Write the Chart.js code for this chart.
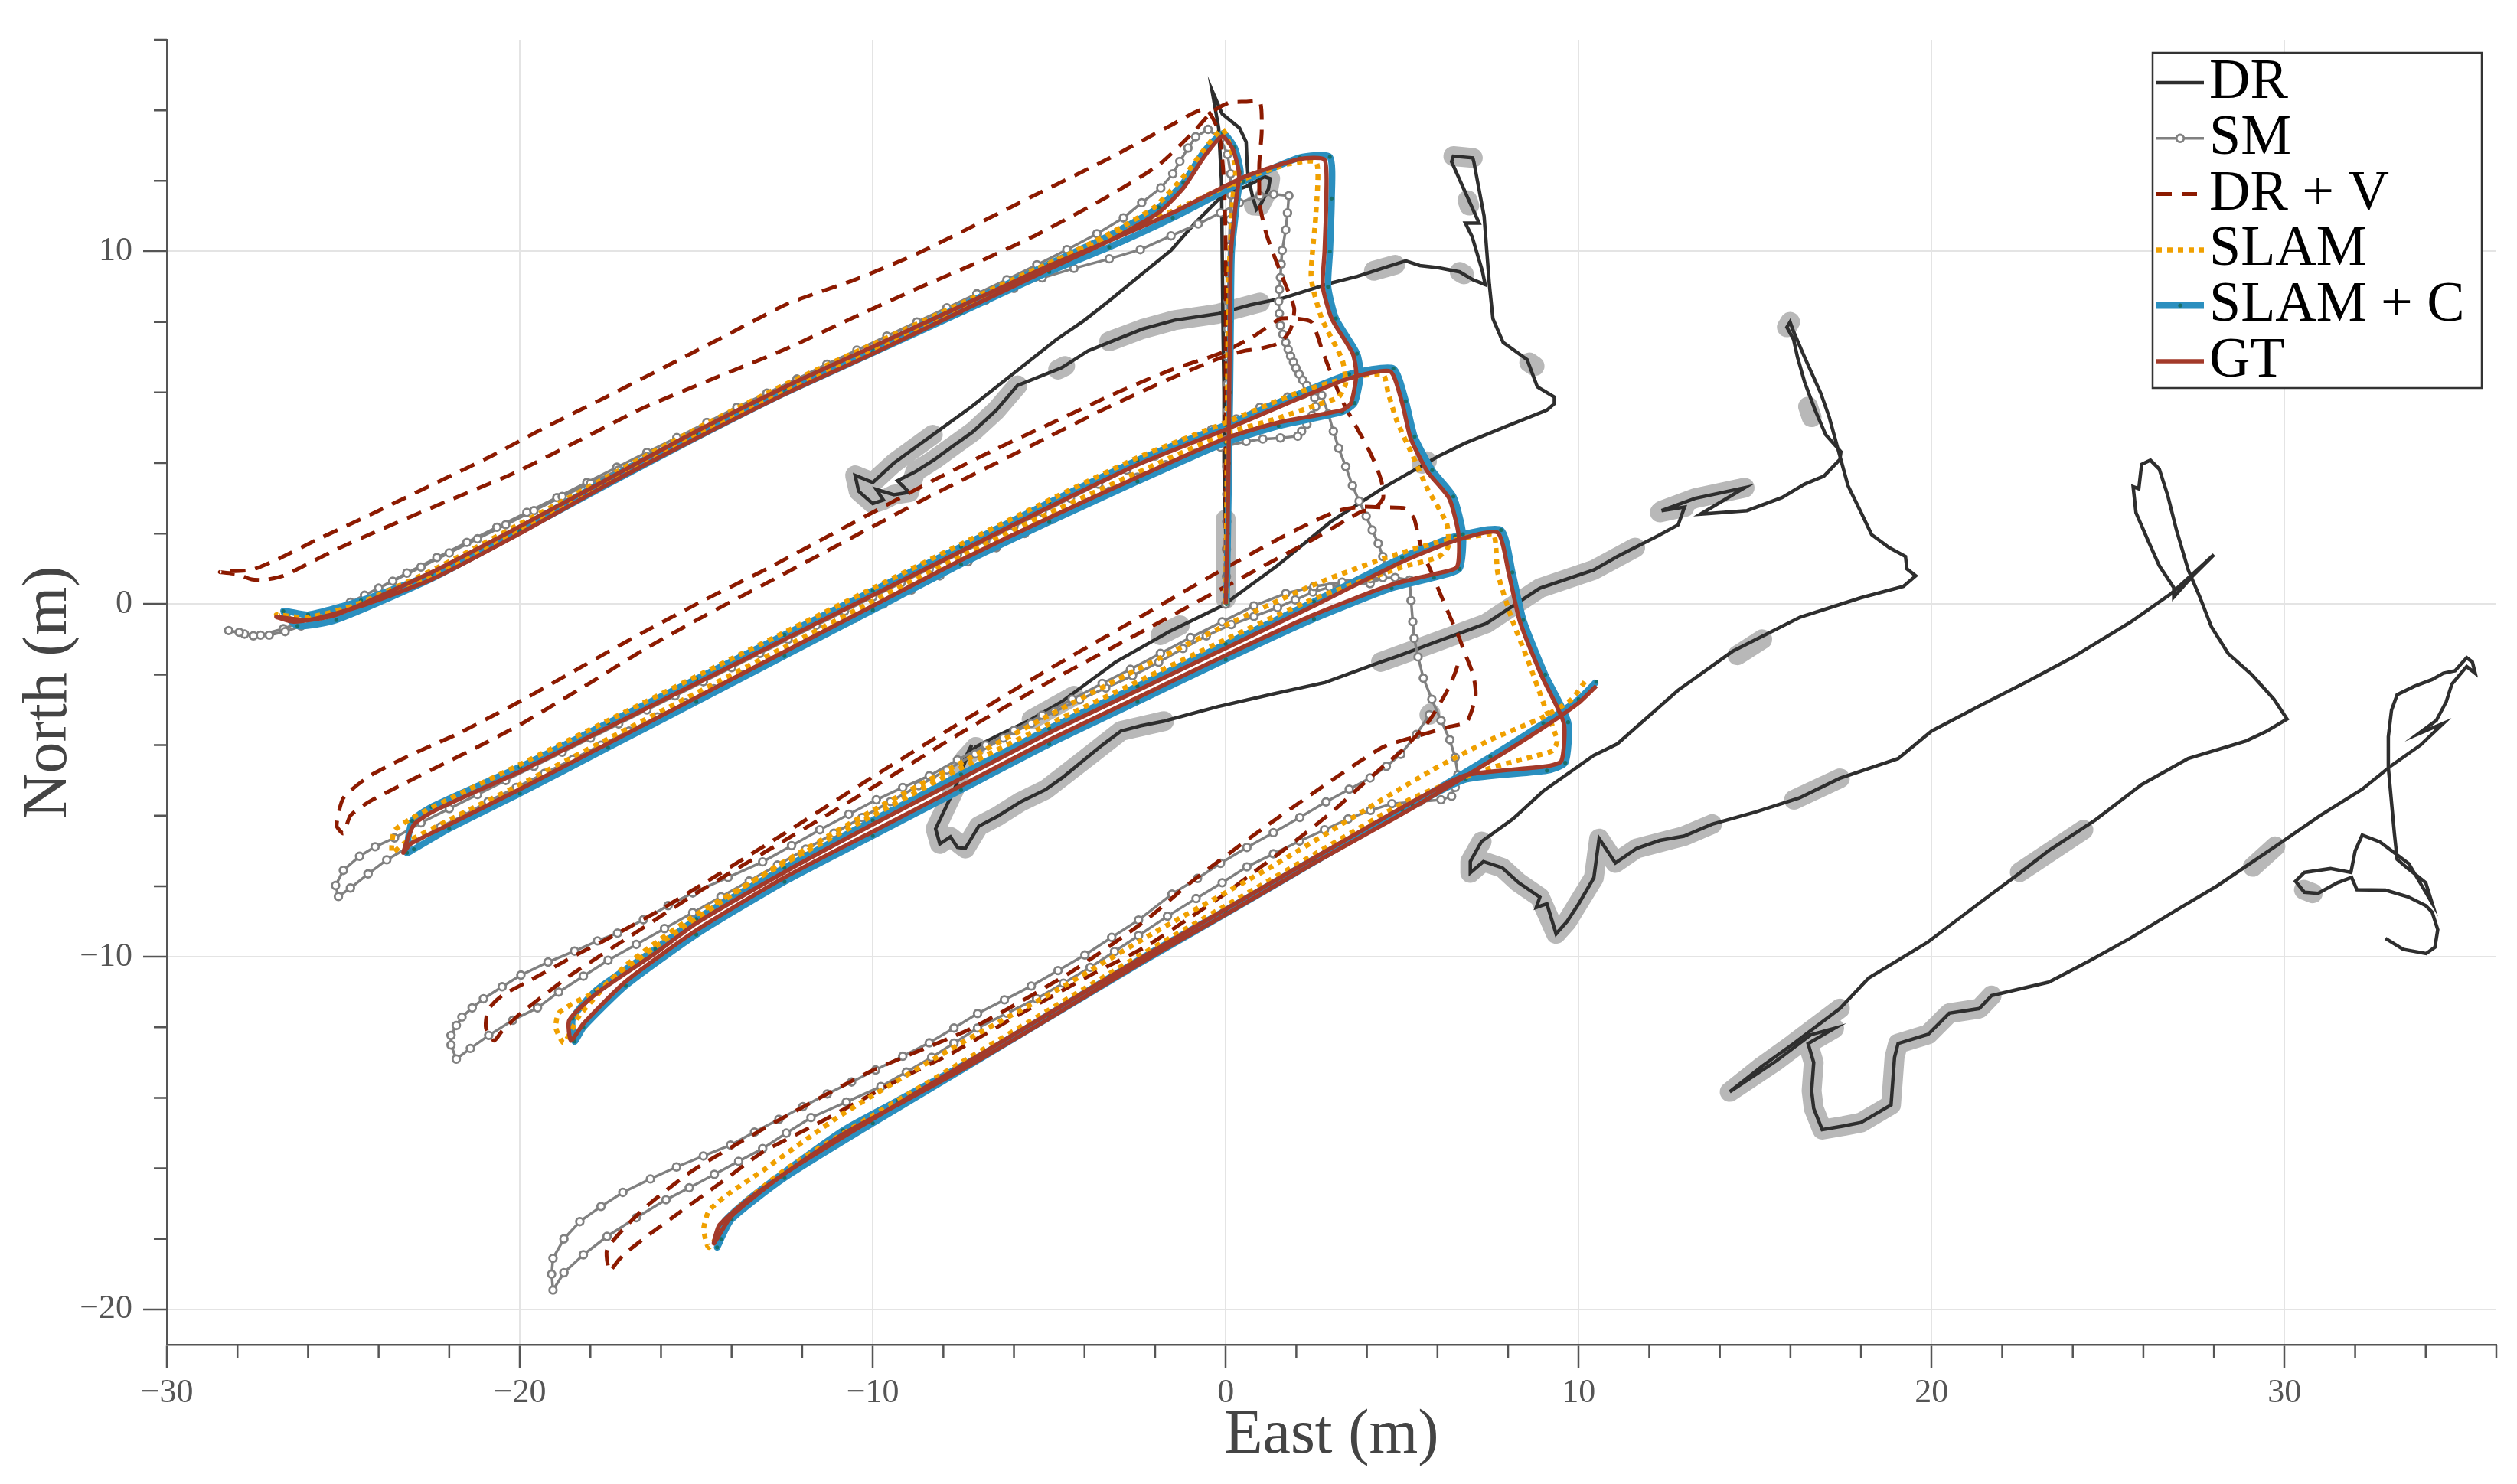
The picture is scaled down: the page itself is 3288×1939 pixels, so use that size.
<!DOCTYPE html>
<html>
<head>
<meta charset="utf-8">
<script src="https://cdn.jsdelivr.net/npm/chart.js@4.4.1/dist/chart.umd.min.js"></script>
<style>
html, body { margin: 0; padding: 0; background: #fff; }
</style>
</head>
<body>
<canvas id="myChart" width="3288" height="1939"></canvas>
<script>
// tick labels
const xTicks = [-30, -20, -10, 0, 10, 20, 30];
const yTicks = [-20, -10, 0, 10];
const legendOrder = ['DR', 'SM', 'DR + V', 'SLAM', 'SLAM + C', 'GT'];

// trajectories, [east, north] in metres
const drPath = [
 [0,0],[0.0,2],[-0.05,4],[-0.05,6],[-0.08,8],[-0.1,10],[-0.12,12],[-0.2,13.5],[-0.39,14.57],
 [-0.1,13.9],[0.39,13.5],[0.58,13.1],[0.6,12.6],[0.63,12.16],[0.75,11.6],[0.87,11.19],[0.97,11.29],[1.21,11.77],[1.26,12.06],[1.1,12.12],[0.6,11.85],[-0.1,11.58],
 [-0.87,10.8],[-1.55,10.03],[-2.33,9.4],[-3.3,8.6],[-4.0,8.05],[-4.8,7.5],[-6.0,6.55],[-7.2,5.6],[-8.3,4.8],[-9.4,4.0],[-10.0,3.45],
 [-10.5,3.65],[-10.4,3.2],[-10.0,2.85],[-9.7,2.95],[-9.9,3.25],[-9.4,3.1],[-8.97,3.17],[-9.3,3.5],[-8.8,3.75],[-8.25,4.1],[-7.7,4.5],[-7.17,4.88],[-6.5,5.5],[-5.9,6.2],
 [-4.65,6.7],[-3.9,7.18],[-3.13,7.49],[-2.36,7.8],[-1.45,8.05],[-0.23,8.23],[0.69,8.48],[1.6,8.67],[2.97,9.1],[3.73,9.29],[4.5,9.54],[5.1,9.73],[5.5,9.6],[6.02,9.54],[6.63,9.42],[7.0,9.2],[7.35,9.06],
 [7.27,9.45],[6.98,10.42],[6.79,10.8],[7.18,10.8],[6.79,11.67],[6.4,12.54],[6.45,12.7],[7.0,12.65],[7.03,12.54],[7.32,11.0],[7.47,9.06],[7.57,8.09],[7.86,7.42],[8.54,6.93],[8.83,6.16],[9.31,5.87],[9.31,5.68],[9.1,5.5],
 [8.0,5.06],[6.78,4.56],[6.02,4.19],[4.5,3.32],[2.97,2.33],[1.45,1.08],[-0.08,-0.04],[-1.6,-0.78],[-3.13,-1.65],[-4.65,-2.77],[-5.55,-3.29],[-6.5,-3.75],[-7.08,-4.05],
 [-7.4,-4.4],[-7.2,-4.0],[-7.69,-5.26],[-7.9,-5.7],[-8.22,-6.37],[-8.1,-6.8],[-7.8,-6.6],[-7.6,-6.9],[-7.38,-6.93],[-7.0,-6.3],[-6.47,-6.02],[-5.8,-5.6],[-5.1,-5.26],[-4.6,-4.9],[-4.03,-4.43],[-3.5,-4.0],[-2.97,-3.6],[-2.4,-3.45],[-1.75,-3.32],
 [-0.23,-2.91],[1.29,-2.56],[2.82,-2.22],[4.34,-1.66],[4.95,-1.45],[5.86,-1.11],[7.38,-0.55],[8.9,0.45],[10.43,0.97],[11.1,1.35],[12.25,1.94],[12.82,2.25],
 [13.0,2.75],[12.35,2.65],[13.3,3.0],[14.7,3.3],[13.45,2.55],[14.77,2.65],[15.76,3.02],[16.4,3.4],[16.95,3.63],[17.4,4.1],[17.43,4.32],[17.0,4.8],[16.7,5.5],[16.4,6.3],[16.2,7.0],[16.09,7.5],[15.9,7.85],[15.99,8.0],[16.1,7.7],[16.4,7.0],[16.86,5.98],[17.1,5.3],[17.63,3.36],[18.0,2.6],[18.3,1.97],[18.8,1.6],[19.26,1.35],[19.3,1.0],[19.55,0.8],[19.2,0.5],
 [18.0,0.18],[16.28,-0.37],[14.36,-1.34],[12.82,-2.44],[11.1,-3.96],[10.43,-4.29],[9.0,-5.3],[8.14,-6.09],[7.25,-6.73],[6.93,-7.3],
 [6.93,-7.62],[7.3,-7.3],[7.84,-7.48],[8.3,-7.9],[8.9,-8.31],[8.8,-8.6],[9.1,-8.5],[9.36,-9.35],[9.67,-9.0],[10.0,-8.5],[10.43,-7.76],[10.58,-6.65],[11.04,-7.34],[11.64,-6.93],[12.3,-6.7],[12.98,-6.58],
 [13.78,-6.24],[15.0,-5.9],[16.25,-5.5],[17.4,-4.94],[19.05,-4.38],[20.0,-3.6],[21.35,-2.89],[22.7,-2.2],[23.98,-1.52],[25.62,-0.52],[26.78,0.29],[27.93,1.34],[28.0,1.4],[27.4,0.8],[26.86,0.2],
 [26.86,0.47],[26.45,1.09],[26.12,1.83],[25.79,2.59],[25.71,3.33],[25.87,3.27],[25.95,3.96],[26.2,4.08],[26.45,3.83],[26.69,3.08],[26.94,2.09],[27.27,0.97],[27.6,0.2],[27.93,-0.65],[28.4,-1.4],[29.08,-2.01],[29.7,-2.7],[30.07,-3.26],[29.5,-3.6],[28.91,-3.88],[27.27,-4.38],[25.95,-5.12],[24.64,-6.12],[23.32,-6.99],[22.4,-7.7],[21.51,-8.36],[19.87,-9.6],[18.22,-10.6],[17.4,-11.47],[16.09,-12.46],[15.2,-13.1],[14.28,-13.83],
 [15.59,-12.96],[16.58,-12.21],[17.24,-12.03],[16.5,-12.46],[16.66,-13.0],[16.6,-13.8],[16.66,-14.3],[16.9,-14.9],[17.5,-14.8],[18.0,-14.7],[18.85,-14.2],[18.95,-12.85],[19.05,-12.46],[19.9,-12.2],[20.5,-11.6],[21.35,-11.47],[21.7,-11.1],
 [23.32,-10.72],[24.5,-10.1],[25.62,-9.48],[26.9,-8.7],[28.09,-7.99],[29.74,-6.87],[31.0,-6.0],[32.2,-5.25],[33.0,-4.6],[33.85,-4.0],[34.5,-3.38],[33.77,-3.69],
 [34.3,-3.3],[34.58,-2.77],[34.74,-2.27],[35.16,-1.77],[35.4,-1.96],[35.32,-1.64],[35.16,-1.52],[34.83,-1.89],[34.5,-1.96],[34.18,-2.14],[33.68,-2.33],[33.19,-2.57],[33.03,-3.01],[32.94,-3.76],[32.94,-4.63],[33.03,-5.62],[33.11,-6.49],[33.19,-7.24],[33.5,-7.5],[34.0,-7.9],[34.18,-8.48],
 [33.52,-7.36],[32.7,-6.74],[32.2,-6.55],[32.0,-7.0],[31.88,-7.61],[31.3,-7.5],[30.56,-7.61],[30.31,-7.86],[30.56,-8.17],[30.95,-8.2],[31.5,-7.9],[31.9,-7.75],[32.05,-8.1],[32.86,-8.11],[33.5,-8.3],[34.0,-8.55],[34.18,-8.73],[34.34,-9.23],[34.26,-9.73],[34.01,-9.91],[33.36,-9.79],[32.86,-9.48]
];

// grey bands drawn under parts of DR (null = gap)
const drGlow = [
 [0,0.15],[0,2.4], null,
 [0.8,11.3],[0.97,11.29],[1.21,11.77],[1.26,12.06], null,
 [-8.3,4.8],[-9.4,4.0],[-10.0,3.45],[-10.5,3.65],[-10.4,3.2],[-10.0,2.85],[-9.7,2.95],[-9.4,3.1],[-8.97,3.17],[-8.8,3.75],[-8.25,4.1],[-7.7,4.5],[-7.17,4.88],[-6.5,5.5],[-5.9,6.2], null,
 [-4.75,6.65],[-4.55,6.75], null,
 [-3.3,7.45],[-2.36,7.8],[-1.45,8.05],[-0.23,8.23],[0.97,8.55], null,
 [4.2,9.45],[4.8,9.62], null,
 [6.63,9.42],[6.75,9.35], null,
 [6.45,12.7],[7.0,12.65], null,
 [6.85,11.45],[6.9,11.3], null,
 [8.6,6.85],[8.75,6.75], null,
 [5.55,3.98],[5.7,4.05], null,
 [-1.85,-0.88],[-1.3,-0.6], null,
 [-5.5,-3.27],[-4.3,-2.6], null,
 [-7.08,-4.05],[-7.4,-4.4],[-7.69,-5.26],[-7.9,-5.7],[-8.22,-6.37],[-8.1,-6.8],[-7.8,-6.6],[-7.38,-6.93],[-7.0,-6.3],[-6.47,-6.02],[-5.8,-5.6],[-5.1,-5.26],[-4.03,-4.43],[-2.97,-3.6],[-1.75,-3.32], null,
 [4.4,-1.64],[5.86,-1.11],[7.38,-0.55],[8.9,0.45],[10.43,0.97],[11.6,1.6], null,
 [12.3,2.6],[13.0,2.75],[12.35,2.65],[13.3,3.0],[14.7,3.3], null,
 [15.9,7.85],[15.99,8.0], null,
 [16.5,5.6],[16.6,5.3], null,
 [14.5,-1.45],[15.2,-1.0], null,
 [7.25,-6.73],[6.93,-7.3],[6.93,-7.62],[7.3,-7.3],[7.84,-7.48],[8.3,-7.9],[8.9,-8.31],[9.36,-9.35],[9.67,-9.0],[10.43,-7.76],[10.58,-6.65],[11.04,-7.34],[11.64,-6.93],[12.98,-6.58],[13.78,-6.24], null,
 [16.1,-5.55],[17.4,-4.94], null,
 [22.5,-7.6],[24.3,-6.4], null,
 [17.4,-11.47],[16.09,-12.46],[15.2,-13.1],[14.28,-13.83],[15.59,-12.96],[16.58,-12.21],[17.24,-12.03],[16.5,-12.46],[16.66,-13.0],[16.6,-13.8],[16.66,-14.3],[16.9,-14.9],[17.5,-14.8],[18.0,-14.7],[18.85,-14.2],[18.95,-12.85],[19.05,-12.46],[19.9,-12.2],[20.5,-11.6],[21.35,-11.47],[21.7,-11.1], null,
 [29.1,-7.45],[29.74,-6.87], null,
 [30.55,-8.1],[30.8,-8.2], null,
 [5.77,-3.14],[5.8,-3.1]
];

const smPath = [
 [0,0],[0.02,0.78],[0.02,1.56],[0.03,2.34],[0.03,3.12],[0.03,3.9],[0.04,4.68],[0.04,5.46],[0.05,6.24],[0.05,7.02],[0.06,7.8],[0.07,8.58],[0.08,9.36],[0.1,10.14],[0.12,10.9],[0.15,11.6],[0.14,12.2],[0.05,12.75],[-0.15,13.2],[-0.5,13.46],
 [-0.85,13.25],[-1.07,12.93],[-1.3,12.55],[-1.5,12.2],[-1.84,11.8],[-2.38,11.38],[-2.9,10.95],[-3.65,10.5],[-4.5,10.05],[-5.35,9.62],[-6.2,9.2],[-7.05,8.8],[-7.9,8.4],[-8.75,8.0],[-9.6,7.6],[-10.45,7.2],[-11.3,6.8],[-12.15,6.38],[-13.0,5.98],[-13.85,5.58],[-14.7,5.15],[-15.55,4.72],[-16.4,4.3],[-17.25,3.88],[-18.1,3.45],[-18.95,3.02],[-19.8,2.6],[-20.65,2.18],[-21.5,1.75],[-22.35,1.32],[-23.2,0.88],[-24.0,0.45],[-24.8,0.05],[-25.5,-0.25],[-26.1,-0.47],[-26.7,-0.7],[-27.35,-0.88],[-27.8,-0.85],[-28.25,-0.75],
 [-27.95,-0.8],[-27.55,-0.9],[-27.1,-0.88],[-26.65,-0.78],[-26.2,-0.62],[-25.7,-0.4],[-25.1,-0.12],[-24.4,0.25],[-23.6,0.65],[-22.8,1.05],[-22.0,1.45],[-21.2,1.85],[-20.4,2.25],[-19.6,2.65],[-18.8,3.05],[-18.0,3.42],[-17.2,3.8],[-16.4,4.18],[-15.6,4.56],[-14.8,4.95],[-14.0,5.32],[-13.2,5.7],[-12.4,6.08],[-11.6,6.45],[-10.8,6.82],[-10.0,7.2],[-9.2,7.55],[-8.4,7.92],[-7.6,8.28],[-6.8,8.62],[-6.0,8.95],[-5.2,9.25],[-4.3,9.52],[-3.3,9.79],[-2.42,10.05],[-1.55,10.44],[-0.78,10.78],[-0.15,11.09],[0.39,11.38],[0.97,11.58],[1.36,11.62],[1.79,11.58],
 [1.75,11.09],[1.7,10.61],[1.6,10.03],[1.57,9.64],[1.55,9.26],[1.52,8.92],[1.5,8.58],[1.52,8.24],[1.55,7.9],[1.62,7.65],[1.7,7.42],[1.77,7.22],[1.84,7.03],[1.92,6.86],[1.99,6.69],[2.08,6.52],[2.18,6.35],[2.3,6.2],[2.42,6.06],[2.52,5.85],[2.55,5.6],[2.45,5.35],[2.3,5.1],[2.15,4.9],[2.04,4.76],
 [1.55,4.71],[1.05,4.68],[0.58,4.61],[-0.15,4.45],[-0.87,4.27],[-1.7,3.95],[-2.5,3.6],[-3.3,3.2],[-4.1,2.8],[-4.9,2.4],[-5.7,2.0],[-6.5,1.6],[-7.3,1.2],[-8.1,0.8],[-8.9,0.4],[-9.7,0.0],[-10.5,-0.4],[-11.3,-0.8],[-12.1,-1.2],[-12.9,-1.6],[-13.7,-2.0],[-14.5,-2.4],[-15.3,-2.8],[-16.1,-3.2],[-16.9,-3.6],[-17.7,-4.0],[-18.5,-4.4],[-19.3,-4.8],[-20.1,-5.2],[-20.9,-5.6],[-21.6,-6.0],[-22.25,-6.32],[-23.0,-6.8],[-23.77,-7.25],[-24.3,-7.65],[-24.8,-8.05],[-25.14,-8.29],
 [-25.22,-7.98],[-25.0,-7.55],[-24.54,-7.15],[-24.1,-6.88],[-23.55,-6.63],[-22.8,-6.2],[-22.0,-5.8],[-21.2,-5.4],[-20.4,-5.0],[-19.6,-4.6],[-18.8,-4.2],[-18.0,-3.8],[-17.2,-3.4],[-16.4,-3.0],[-15.6,-2.6],[-14.8,-2.2],[-14.0,-1.8],[-13.2,-1.4],[-12.4,-1.0],[-11.6,-0.6],[-10.8,-0.2],[-10.0,0.2],[-9.2,0.6],[-8.4,1.0],[-7.6,1.4],[-6.8,1.8],[-6.0,2.2],[-5.2,2.6],[-4.4,3.0],[-3.6,3.4],[-2.8,3.8],[-2.0,4.2],[-1.2,4.6],[-0.4,4.95],[0.3,5.25],[0.97,5.58],[1.75,5.87],[2.2,5.95],[2.72,5.92],
 [2.91,5.39],[3.05,4.9],[3.2,4.42],[3.4,3.9],[3.59,3.36],[3.78,2.92],[3.98,2.49],[4.15,2.1],[4.32,1.72],[4.45,1.35],[4.53,1.06],[4.45,0.75],[4.09,0.58],
 [3.47,0.58],[2.95,0.48],[2.47,0.34],[1.97,0.12],[1.47,-0.1],[0.8,-0.35],[0.16,-0.58],[-0.55,-0.9],[-1.21,-1.26],[-1.9,-1.65],[-2.64,-2.03],[-3.4,-2.38],[-4.14,-2.71],[-4.85,-3.05],[-5.51,-3.38],[-6.3,-3.8],[-7.1,-4.25],[-7.9,-4.7],[-8.7,-5.15],[-9.5,-5.6],[-10.3,-6.05],[-11.1,-6.5],[-11.9,-6.95],[-12.7,-7.4],[-13.5,-7.85],[-14.3,-8.3],[-15.1,-8.75],[-15.9,-9.2],[-16.7,-9.65],[-17.5,-10.1],[-18.2,-10.55],[-18.9,-11.0],[-19.5,-11.45],[-20.2,-11.8],[-20.88,-12.23],[-21.4,-12.6],[-21.8,-12.9],
 [-21.95,-12.5],[-21.95,-12.23],[-21.8,-11.95],[-21.64,-11.71],[-21.35,-11.45],[-21.03,-11.19],[-20.5,-10.85],[-19.97,-10.52],[-19.2,-10.15],[-18.45,-9.84],[-17.8,-9.55],[-17.23,-9.33],[-16.5,-8.95],[-15.8,-8.55],[-15.1,-8.19],[-14.1,-7.75],[-13.12,-7.31],[-12.3,-6.85],[-11.5,-6.4],[-10.68,-5.96],[-9.9,-5.55],[-9.15,-5.2],[-8.4,-4.87],[-7.6,-4.42],[-6.8,-4.0],[-6.0,-3.58],[-5.2,-3.15],[-4.35,-2.7],[-3.5,-2.25],[-2.7,-1.85],[-1.85,-1.4],[-1.0,-0.95],[-0.1,-0.5],[0.8,-0.05],[1.7,0.3],[2.5,0.5],[3.3,0.62],[4.1,0.72],[4.8,0.75],[5.21,0.68],
 [5.25,0.1],[5.3,-0.5],[5.34,-0.97],[5.45,-1.5],[5.6,-2.1],[5.84,-2.7],[6.1,-3.3],[6.35,-3.85],[6.5,-4.35],[6.58,-4.84],[6.5,-5.2],[6.4,-5.45],[6.1,-5.55],[5.5,-5.6],[4.71,-5.66],
 [4.1,-5.85],[3.47,-6.09],[2.8,-6.4],[2.09,-6.72],[1.35,-7.08],[0.6,-7.45],[-0.1,-7.9],[-0.84,-8.35],[-1.65,-8.85],[-2.47,-9.4],[-3.15,-9.85],[-3.84,-10.3],[-4.6,-10.75],[-5.36,-11.19],[-6.2,-11.6],[-7.03,-12.02],[-7.7,-12.45],[-8.33,-12.85],[-9.05,-13.27],[-9.77,-13.68],[-10.75,-14.12],[-11.75,-14.56],[-12.45,-15.0],[-13.12,-15.44],[-13.8,-15.8],[-14.49,-16.17],[-15.2,-16.55],[-15.86,-16.89],[-16.7,-17.4],[-17.53,-17.93],[-18.2,-18.45],[-18.75,-18.96],[-19.06,-19.45],
 [-19.1,-19.0],[-19.06,-18.55],[-18.75,-18.0],[-18.3,-17.51],[-17.7,-17.08],[-17.08,-16.68],[-16.3,-16.3],[-15.56,-15.96],[-14.8,-15.65],[-14.03,-15.34],[-13.35,-14.97],[-12.66,-14.61],[-11.98,-14.25],[-11.29,-13.89],[-10.6,-13.55],[-9.92,-13.21],[-9.15,-12.82],[-8.4,-12.44],[-7.7,-12.02],[-7.03,-11.61],[-6.27,-11.22],[-5.51,-10.83],[-4.75,-10.39],[-3.99,-9.95],[-3.23,-9.45],[-2.47,-8.96],[-1.52,-8.22],[-0.8,-7.78],[-0.15,-7.35],[0.6,-6.9],[1.35,-6.48],[2.1,-6.05],[2.84,-5.61],[3.5,-5.25],[4.09,-4.93],[4.55,-4.6],[4.96,-4.26],[5.4,-3.7],[5.77,-3.14]
];

const drvPath = [
 [0,0],[0.0,2.5],[0.0,5],[0.0,7.5],[0.0,10],[-0.05,12],[-0.2,13.4],[-0.58,14.04],
 [-1.6,13.55],[-3.3,12.64],[-5.5,11.55],[-8.67,9.97],[-10.5,9.2],[-12.38,8.53],[-14.0,7.7],[-15.7,6.82],[-17.5,5.9],[-19.3,5.0],[-20.8,4.2],[-22.35,3.45],[-24.1,2.6],[-25.8,1.8],[-26.8,1.3],[-27.6,0.97],[-28.5,0.91],
 [-28.0,0.85],[-27.6,0.7],[-27.2,0.69],[-26.7,0.8],[-26.24,1.02],[-25.2,1.55],[-24.02,2.08],[-22.1,2.9],[-20.13,3.73],[-18.3,4.65],[-16.53,5.55],[-14.5,6.4],[-12.52,7.21],[-10.6,8.1],[-8.67,8.98],[-7.0,9.7],[-5.3,10.5],[-3.3,11.58],[-1.9,12.45],[-0.9,13.4],[-0.4,13.95],[0.1,14.22],[0.55,14.24],[0.97,14.24],
 [1.02,13.41],[0.95,12.45],[0.97,11.3],[1.15,10.5],[1.4,9.8],[1.65,9.16],[1.94,8.38],[1.84,7.8],[1.55,7.42],[1.0,7.25],[0.53,7.18],
 [-0.1,7.0],[-1.55,6.4],[-3.3,5.6],[-5.0,4.75],[-6.5,4.0],[-8.3,3.1],[-10,2.2],[-11.5,1.4],[-13,0.6],[-14.8,-0.35],[-16.5,-1.3],[-18.2,-2.35],[-19.96,-3.4],[-21.0,-3.95],[-22.12,-4.51],[-23.2,-5.05],[-24.28,-5.61],[-24.8,-6.0],[-25.0,-6.5],
 [-25.19,-6.28],[-25.0,-5.5],[-24.3,-4.9],[-23.57,-4.51],[-22.7,-4.1],[-21.76,-3.68],[-19.96,-2.74],[-18.2,-1.75],[-16.5,-0.8],[-14.8,0.1],[-13,1.0],[-11.5,1.8],[-10,2.6],[-8.3,3.5],[-6.5,4.4],[-5.0,5.1],[-3.3,5.9],[-1.55,6.64],[-0.1,7.13],[0.8,7.6],[1.55,8.09],[2.04,8.09],[2.44,7.99],
 [2.74,7.18],[3.0,6.5],[3.28,5.81],[3.6,5.2],[3.96,4.56],[4.25,3.95],[4.42,3.45],[4.46,3.0],[4.21,2.71],[3.84,2.62],
 [2.5,1.85],[1.2,1.15],[0,0.5],[-2.5,-0.85],[-5,-2.2],[-7.5,-3.65],[-10,-5.2],[-12.5,-6.7],[-15,-8.2],[-17,-9.5],[-18.6,-10.55],[-19.97,-11.6],[-20.5,-12.1],[-20.73,-12.38],
 [-20.96,-12.02],[-20.9,-11.5],[-20.5,-11.1],[-19.67,-10.65],[-18.5,-10.0],[-17.53,-9.5],[-16.16,-8.75],[-15,-8.05],[-12.5,-6.5],[-10,-4.9],[-7.5,-3.35],[-5.1,-1.9],[-2.66,-0.5],[-0.23,0.9],[1.5,1.85],[2.5,2.35],[3.2,2.65],[3.84,2.76],[4.5,2.74],[5.09,2.71],
 [5.34,2.42],[5.45,1.95],[5.59,1.45],[5.85,0.85],[6.08,0.29],[6.33,-0.3],[6.58,-0.87],[6.8,-1.45],[7.02,-2.03],[7.08,-2.61],[6.83,-3.34],[6.33,-3.48],
 [5.4,-3.75],[4.46,-4.05],[3.0,-5.0],[1.0,-6.4],[-1.0,-7.9],[-2.31,-9.0],[-4.44,-10.47],[-7.18,-12.02],[-10.08,-13.26],[-12.82,-14.72],[-15.1,-16.06],[-16.32,-17.0],[-17.0,-17.65],[-17.53,-18.3],[-17.46,-18.91],
 [-17.2,-18.6],[-16.93,-18.34],[-16.3,-17.85],[-15.56,-17.31],[-14.3,-16.4],[-13.12,-15.54],[-11.7,-14.8],[-10.38,-14.09],[-9.1,-13.4],[-7.79,-12.75],[-6.4,-11.95],[-5.05,-11.19],[-3.7,-10.45],[-2.31,-9.74],[-1.1,-8.95],[0,-8.2],[1.0,-7.45],[2.0,-6.7],[3.0,-5.9],[3.73,-5.25],[4.46,-4.6],[5.0,-4.15],[5.77,-3.3],[6.33,-2.35],[6.58,-1.69],[6.45,-1.55]
];

const slamPath = [
 [0,0],[0.03,3],[0.05,6],[0.08,9],[0.2,11.5],[0.28,12.3],[0.12,13.0],[-0.1,13.46],
 [-0.6,12.9],[-1.16,12.16],[-2.04,11.24],[-3.3,10.5],[-5,9.65],[-7.5,8.42],[-10,7.22],[-12.5,6.05],[-15,4.8],[-17.5,3.5],[-20,2.1],[-22.5,0.8],[-24.5,0.02],[-26,-0.38],[-26.9,-0.3],
 [-26.3,-0.45],[-25.2,-0.25],[-22.5,0.95],[-20,2.27],[-17.5,3.62],[-15,4.97],[-12.5,6.22],[-10,7.37],[-7.5,8.52],[-5,9.67],[-3.3,10.38],[-1.5,11.15],[0.5,12.05],[1.8,12.48],[2.57,12.52],
 [2.55,11.0],[2.42,9.26],[2.72,8.1],[3.3,6.93],[3.4,6.26],[3.2,5.87],[2.8,5.72],
 [1.5,5.28],[0,4.83],[-2.5,3.73],[-5,2.58],[-7.5,1.38],[-10,0.08],[-12.5,-1.22],[-15,-2.52],[-17.5,-3.82],[-20,-5.12],[-22,-6.12],[-23.3,-6.8],[-23.62,-7.05],
 [-23.55,-6.42],[-22.86,-5.96],[-20,-4.55],[-17.5,-3.3],[-15,-2.05],[-12.5,-0.8],[-10,0.45],[-7.5,1.7],[-5,2.95],[-2.5,4.15],[0,5.15],[2,5.98],[3.5,6.42],[4.46,6.5],
 [4.6,6.0],[4.85,5.19],[5.3,4.2],[5.72,3.26],[6.26,2.29],[6.3,1.62],[6.01,1.33],
 [5.0,1.05],[2.5,0.15],[0,-1.0],[-2.5,-2.2],[-5,-3.4],[-7.5,-4.65],[-10,-6.0],[-12.5,-7.35],[-15,-8.8],[-17,-10.25],[-18.3,-11.65],[-18.75,-12.44],
 [-18.98,-12.02],[-18.9,-11.6],[-18.45,-11.3],[-17.84,-10.98],[-16,-9.6],[-13,-7.6],[-10,-5.85],[-7.5,-4.5],[-5,-3.15],[-2.5,-1.85],[0,-0.6],[2.5,0.55],[4.5,1.3],[6,1.75],[7.2,1.95],[7.6,1.97],
 [7.71,0.87],[8.1,-0.4],[8.58,-1.64],[9.0,-2.8],[9.39,-3.87],[9.26,-4.16],[8.8,-4.3],[7.5,-4.65],
 [5.3,-5.5],[2.5,-7.1],[0,-8.55],[-2.5,-10.0],[-5,-11.5],[-7.5,-13.0],[-10,-14.5],[-12.5,-16.05],[-14,-17.3],[-14.64,-18.24],
 [-14.79,-17.72],[-14.64,-17.2],[-14.03,-16.68],[-13.27,-16.17],[-10.84,-14.45],[-7.5,-12.45],[-4.79,-10.95],[-2,-9.3],[1.29,-7.45],[4.34,-5.6],[5.86,-4.7],[7.5,-3.85],[9.0,-3.2],[9.8,-2.7],[10.26,-2.08]
];

const slamcPath = [
 [0.02,0],[0.06,2],[0.09,4],[0.12,6],[0.14,8],[0.17,10],[0.33,11.5],[0.42,12.25],[0.25,12.95],[-0.08,13.35],
 [-0.6,12.85],[-1.2,11.95],[-1.9,11.25],[-3.3,10.45],[-5,9.65],[-7.5,8.45],[-10,7.25],[-12.5,6.1],[-15,4.85],[-17.5,3.55],[-20,2.15],[-22.5,0.85],[-24.5,0.1],[-26,-0.3],[-26.7,-0.2],
 [-26.3,-0.62],[-25.2,-0.45],[-22.5,0.72],[-20,2.05],[-17.5,3.4],[-15,4.72],[-12.5,5.98],[-10,7.12],[-7.5,8.27],[-5,9.42],[-3.3,10.12],[-1.5,10.95],[0.5,11.98],[2.1,12.66],[2.95,12.68],
 [3.0,11.5],[2.95,10.0],[2.9,9.0],[3.12,8.1],[3.72,7.1],[3.82,6.5],[3.65,5.7],[3.3,5.45],
 [1.5,5.05],[0,4.58],[-2.5,3.48],[-5,2.33],[-7.5,1.13],[-10,-0.17],[-12.5,-1.47],[-15,-2.77],[-17.5,-4.07],[-20,-5.37],[-22,-6.37],[-23.0,-6.95],[-23.2,-7.05],
 [-23.05,-6.15],[-22.5,-5.75],[-20,-4.62],[-17.5,-3.37],[-15,-2.12],[-12.5,-0.87],[-10,0.38],[-7.5,1.63],[-5,2.88],[-2.5,4.08],[0,5.08],[2,5.93],[3.5,6.52],[4.75,6.68],
 [5.1,5.75],[5.35,4.75],[5.85,3.8],[6.45,3.05],[6.72,1.98],[6.62,1.0],
 [5.9,0.75],[4.7,0.45],[2.5,-0.42],[0,-1.57],[-2.5,-2.77],[-5,-3.97],[-7.5,-5.27],[-10,-6.57],[-12.5,-7.87],[-15,-9.37],[-17,-10.82],[-18.2,-12.0],[-18.45,-12.4],
 [-18.5,-11.75],[-17.84,-10.95],[-16.16,-9.78],[-15,-8.93],[-12.5,-7.48],[-10,-6.13],[-7.5,-4.83],[-5,-3.53],[-2.5,-2.33],[0,-1.13],[2.5,0.07],[5,1.32],[6.5,1.92],[7.8,2.1],
 [8.12,0.9],[8.43,-0.45],[9.05,-2.0],[9.7,-3.35],[9.62,-4.5],[9.1,-4.72],
 [6.8,-4.97],[5.3,-5.72],[2.5,-7.32],[0,-8.78],[-2.5,-10.22],[-5,-11.72],[-7.5,-13.22],[-10,-14.72],[-12.5,-16.27],[-14,-17.45],[-14.41,-18.24],
 [-14.3,-18.0],[-14.2,-17.5],[-13.3,-16.7],[-10.84,-14.92],[-9.3,-14.08],[-7.0,-12.83],[-5,-11.63],[-2.2,-9.93],[0,-8.68],[2.5,-7.23],[5,-5.83],[7.5,-4.33],[9.0,-3.38],[10.0,-2.7],[10.5,-2.2]
];

const gtPath = [
 [0,0],[0.05,2],[0.08,4],[0.1,6],[0.12,8],[0.15,10],[0.3,11.5],[0.38,12.2],[0.2,12.9],[-0.1,13.27],
 [-0.6,12.7],[-1.2,11.8],[-1.9,11.1],[-3.3,10.3],[-5,9.5],[-7.5,8.3],[-10,7.1],[-12.5,5.95],[-15,4.7],[-17.5,3.4],[-20,2.0],[-22.5,0.7],[-24.5,-0.05],[-26,-0.45],[-26.9,-0.36],
 [-26.4,-0.5],[-25.2,-0.3],[-22.5,0.9],[-20,2.2],[-17.5,3.55],[-15,4.9],[-12.5,6.15],[-10,7.3],[-7.5,8.45],[-5,9.6],[-3.3,10.3],[-1.5,11.1],[0.5,12.1],[2.1,12.62],[2.8,12.6],
 [2.85,11.5],[2.8,10.0],[2.75,9.0],[3.0,8.1],[3.6,7.1],[3.7,6.5],[3.55,5.7],[3.3,5.5],
 [1.5,5.15],[0,4.7],[-2.5,3.6],[-5,2.45],[-7.5,1.25],[-10,-0.05],[-12.5,-1.35],[-15,-2.65],[-17.5,-3.95],[-20,-5.25],[-22,-6.25],[-23.1,-6.8],[-23.3,-7.05],
 [-23.0,-6.25],[-22.4,-5.85],[-20,-4.75],[-17.5,-3.5],[-15,-2.25],[-12.5,-1.0],[-10,0.25],[-7.5,1.5],[-5,2.75],[-2.5,3.95],[0,4.95],[2,5.8],[3.5,6.4],[4.66,6.6],
 [5.0,5.7],[5.24,4.7],[5.72,3.75],[6.33,3.0],[6.6,1.95],[6.55,1.05],
 [5.9,0.85],[4.7,0.55],[2.5,-0.3],[0,-1.45],[-2.5,-2.65],[-5,-3.85],[-7.5,-5.15],[-10,-6.45],[-12.5,-7.75],[-15,-9.25],[-17,-10.7],[-18.2,-11.9],[-18.55,-12.38],
 [-18.6,-11.8],[-17.84,-11.05],[-16.16,-9.9],[-15,-9.05],[-12.5,-7.6],[-10,-6.25],[-7.5,-4.95],[-5,-3.65],[-2.5,-2.45],[0,-1.25],[2.5,-0.05],[5,1.2],[6.5,1.8],[7.7,2.03],
 [8.02,0.87],[8.33,-0.48],[8.95,-2.03],[9.58,-3.38],[9.51,-4.45],[9.08,-4.6],
 [6.8,-4.85],[5.3,-5.6],[2.5,-7.2],[0,-8.65],[-2.5,-10.1],[-5,-11.6],[-7.5,-13.1],[-10,-14.6],[-12.5,-16.15],[-14,-17.35],[-14.5,-18.13],
 [-14.34,-17.6],[-13.42,-16.8],[-10.84,-15.03],[-9.3,-14.2],[-7.03,-12.95],[-5,-11.75],[-2.2,-10.05],[0,-8.8],[2.5,-7.35],[5,-5.95],[7.5,-4.45],[9.0,-3.5],[10.0,-2.8],[10.5,-2.32]
];

const toPts = a => a.map(p => p ? { x: p[0], y: p[1] } : { x: null, y: null });
const fmt = v => v < 0 ? '\u2212' + Math.abs(v) : String(v);

const serif = 'Liberation Serif';

// short ticks every 2 m between the labelled ones
const minorTicks = {
  id: 'minorTicks',
  afterDraw(chart) {
    const { ctx, chartArea: a, scales: { x, y } } = chart;
    ctx.save();
    ctx.strokeStyle = '#555';
    ctx.lineWidth = 2.5;
    ctx.beginPath();
    for (let v = x.min; v <= x.max; v += 2) {
      if (v % 10 === 0) continue;
      const px = x.getPixelForValue(v);
      ctx.moveTo(px, a.bottom);
      ctx.lineTo(px, a.bottom + 17);
    }
    for (let v = -20; v <= y.max; v += 2) {
      if (v % 10 === 0) continue;
      const py = y.getPixelForValue(v);
      ctx.moveTo(a.left, py);
      ctx.lineTo(a.left - 17, py);
    }
    ctx.stroke();
    ctx.restore();
  }
};

// boxed legend in the top right corner of the plot
const legendBox = {
  id: 'legendBox',
  afterDraw(chart) {
    const ctx = chart.ctx;
    const bx = 2812, by = 69, bw = 430, bh = 438;
    ctx.save();
    ctx.fillStyle = '#fff';
    ctx.fillRect(bx, by, bw, bh);
    ctx.strokeStyle = '#333';
    ctx.lineWidth = 2.5;
    ctx.strokeRect(bx, by, bw, bh);
    legendOrder.forEach((name, i) => {
      const ds = chart.data.datasets.find(d => d.label === name);
      const ly = by + 39 + i * 72.8;
      const x1 = bx + 5, x2 = bx + 67;
      ctx.save();
      ctx.strokeStyle = ds.borderColor;
      ctx.lineWidth = ds.borderWidth;
      ctx.setLineDash(ds.borderDash || []);
      ctx.beginPath();
      ctx.moveTo(x1, ly);
      ctx.lineTo(x2, ly);
      ctx.stroke();
      ctx.setLineDash([]);
      if (ds.pointRadius > 0) {
        ctx.beginPath();
        ctx.arc((x1 + x2) / 2, ly, ds.pointRadius, 0, Math.PI * 2);
        ctx.fillStyle = ds.pointBackgroundColor;
        ctx.fill();
        if (ds.pointBorderWidth) {
          ctx.lineWidth = ds.pointBorderWidth;
          ctx.strokeStyle = ds.pointBorderColor;
          ctx.stroke();
        }
      }
      ctx.restore();
      ctx.fillStyle = '#000';
      ctx.font = '74px "' + serif + '"';
      ctx.textBaseline = 'alphabetic';
      ctx.fillText(name, bx + 74, ly + 20);
    });
    ctx.restore();
  }
};

const ctx = document.getElementById('myChart');

new Chart(ctx, {
  type: 'scatter',
  data: {
    datasets: [
      { label: 'GT', data: toPts(gtPath), showLine: true, tension: 0.2, borderColor: '#a33a2a', borderWidth: 5.5, pointRadius: 0, order: 1 },
      { label: 'SLAM', data: toPts(slamPath), showLine: true, tension: 0.2, borderColor: '#f0a000', borderWidth: 6.5, borderDash: [7, 7], pointRadius: 0, order: 2 },
      { label: 'SLAM + C', data: toPts(slamcPath), showLine: true, tension: 0.2, borderColor: '#2b8fbf', borderWidth: 8.5, pointRadius: 2.6, pointBackgroundColor: '#17706b', pointBorderWidth: 0, order: 3 },
      { label: 'DR + V', data: toPts(drvPath), showLine: true, tension: 0.2, borderColor: '#8c1a00', borderWidth: 5, borderDash: [20, 13], pointRadius: 0, order: 4 },
      { label: 'SM', data: toPts(smPath), showLine: true, borderColor: '#808080', borderWidth: 3.5, pointRadius: 4.8, pointBackgroundColor: '#fff', pointBorderColor: '#808080', pointBorderWidth: 2.8, order: 5 },
      { label: 'DR', data: toPts(drPath), showLine: true, borderColor: '#2e2e2e', borderWidth: 4.5, pointRadius: 0, order: 6 },
      { label: 'glow', data: toPts(drGlow), showLine: true, borderColor: '#b8b8b8', borderWidth: 26, borderCapStyle: 'round', borderJoinStyle: 'round', pointRadius: 0, order: 7 }
    ]
  },
  options: {
    responsive: false,
    animation: false,
    devicePixelRatio: 1,
    events: [],
    layout: { padding: { top: 52, right: 27, bottom: 0, left: 0 } },
    plugins: { legend: { display: false }, tooltip: { enabled: false } },
    scales: {
      x: {
        type: 'linear', min: -30, max: 36,
        afterBuildTicks: s => { s.ticks = xTicks.map(v => ({ value: v })); },
        afterFit: s => { s.height = 182; },
        grid: { color: '#e4e4e4', lineWidth: 2, drawTicks: true, tickLength: 31, tickColor: '#555', tickWidth: 2.5 },
        border: { display: true, color: '#555', width: 2.5 },
        ticks: { font: { family: serif, size: 44 }, color: '#555', padding: 6, maxRotation: 0, callback: v => fmt(v) },
        title: { display: true, text: 'East (m)', font: { family: serif, size: 82 }, color: '#444', padding: { top: 0, bottom: 13 } }
      },
      y: {
        type: 'linear', min: -21, max: 16,
        afterBuildTicks: s => { s.ticks = yTicks.map(v => ({ value: v })); },
        afterFit: s => { s.width = 218; },
        grid: { color: '#e4e4e4', lineWidth: 2, drawTicks: true, tickLength: 31, tickColor: '#555', tickWidth: 2.5 },
        border: { display: true, color: '#555', width: 2.5 },
        ticks: { font: { family: serif, size: 44 }, color: '#555', padding: 14, callback: v => fmt(v) },
        title: { display: true, text: 'North (m)', font: { family: serif, size: 82 }, color: '#444', padding: { top: 15, bottom: 0 } }
      }
    }
  },
  plugins: [minorTicks, legendBox]
});
</script>
</body>
</html>
